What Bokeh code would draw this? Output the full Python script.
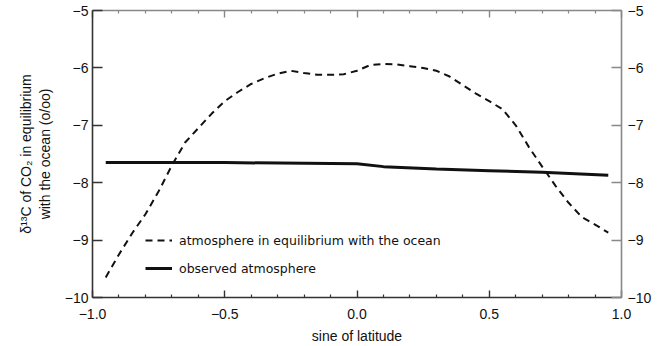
from bokeh.plotting import figure
from bokeh.models import LinearAxis, FixedTicker, Range1d, Legend, LegendItem
from bokeh.embed import file_html
from bokeh.resources import INLINE

# sine of latitude for the ocean-equilibrium curve
sine_lat = [-0.95, -0.90, -0.85, -0.80, -0.75, -0.70, -0.65, -0.60, -0.55, -0.50,
            -0.45, -0.40, -0.35, -0.30, -0.25, -0.20, -0.15, -0.10, -0.05, 0.00,
            0.05, 0.10, 0.15, 0.20, 0.25, 0.30, 0.35, 0.40, 0.45, 0.50,
            0.55, 0.60, 0.65, 0.70, 0.75, 0.80, 0.85, 0.90, 0.95]
# d13C of CO2 for an atmosphere in equilibrium with the ocean (per mil)
ocean_eq = [-9.65, -9.25, -8.88, -8.55, -8.15, -7.70, -7.30, -7.05, -6.80, -6.58,
            -6.42, -6.28, -6.18, -6.10, -6.05, -6.09, -6.12, -6.12, -6.11, -6.05,
            -5.95, -5.93, -5.94, -5.97, -6.00, -6.05, -6.15, -6.30, -6.45, -6.58,
            -6.72, -7.00, -7.38, -7.72, -8.05, -8.35, -8.60, -8.73, -8.87]

# observed atmospheric d13C
obs_sine = [-0.95, -0.50, 0.00, 0.10, 0.30, 0.50, 0.70, 0.95]
obs_atm = [-7.65, -7.65, -7.67, -7.72, -7.76, -7.79, -7.82, -7.87]

x_ticks = [-1.0, -0.5, 0.0, 0.5, 1.0]
x_tick_labels = ["\u22121.0", "\u22120.5", "0.0", "0.5", "1.0"]
x_minor_ticks = [-0.9, -0.8, -0.7, -0.6, -0.4, -0.3, -0.2, -0.1,
                 0.1, 0.2, 0.3, 0.4, 0.6, 0.7, 0.8, 0.9]
y_ticks = [-10, -9, -8, -7, -6, -5]
y_tick_labels = ["\u221210", "\u22129", "\u22128", "\u22127", "\u22126", "\u22125"]

FONT = "Liberation Sans"

p = figure(width=657, height=346, x_range=Range1d(-1, 1), y_range=Range1d(-10, -5),
           output_backend="svg", toolbar_location=None,
           x_axis_location=None, y_axis_location=None,
           min_border_left=92, min_border_right=36,
           min_border_top=10, min_border_bottom=48)
p.xgrid.visible = False
p.ygrid.visible = False
p.outline_line_color = None
p.background_fill_color = "white"
p.border_fill_color = "white"

xt = FixedTicker(ticks=x_ticks, minor_ticks=x_minor_ticks)
yt = FixedTicker(ticks=y_ticks, minor_ticks=[])


def style(ax, color, major_in, minor_in, labels=True):
    ax.axis_line_color = color
    ax.axis_line_width = 1.6
    ax.major_tick_line_color = color
    ax.minor_tick_line_color = color
    ax.major_tick_line_width = 1.4
    ax.minor_tick_line_width = 1.2
    ax.major_tick_in = major_in
    ax.major_tick_out = 0
    ax.minor_tick_in = minor_in
    ax.minor_tick_out = 0
    ax.major_label_text_font = FONT
    ax.major_label_text_font_size = "14px"
    ax.major_label_text_color = "#111111"
    ax.axis_label_text_font = FONT
    ax.axis_label_text_font_size = "14px"
    ax.axis_label_text_font_style = "normal"
    ax.axis_label_text_color = "#111111"
    if not labels:
        ax.major_label_text_alpha = 0


bottom = LinearAxis(ticker=xt, axis_label="sine of latitude",
                    major_label_overrides=dict(zip(x_ticks, x_tick_labels)))
style(bottom, "#333333", 7, 3)
bottom.major_label_standoff = 11
bottom.axis_label_standoff = 6
p.add_layout(bottom, "below")

top = LinearAxis(ticker=xt, major_label_overrides={t: "" for t in x_ticks})
style(top, "#888888", 7, 3, labels=False)
p.add_layout(top, "above")

left = LinearAxis(ticker=yt,
                  axis_label="\u03b4\u00b9\u00b3C of CO\u2082 in equilibrium\nwith the ocean (o/oo)",
                  major_label_overrides=dict(zip(y_ticks, y_tick_labels)))
style(left, "#333333", 10, 0)
left.major_label_standoff = 4
left.axis_label_standoff = 9
p.add_layout(left, "left")

right = LinearAxis(ticker=yt, major_label_overrides=dict(zip(y_ticks, y_tick_labels)))
style(right, "#888888", 10, 0)
right.major_label_standoff = 6
p.add_layout(right, "right")

r_eq = p.line(sine_lat, ocean_eq, line_color="#111111", line_width=2, line_dash="7 5")
r_obs = p.line(obs_sine, obs_atm, line_color="#111111", line_width=3)

legend = Legend(items=[
    LegendItem(label="atmosphere in equilibrium with the ocean", renderers=[r_eq]),
    LegendItem(label="observed atmosphere", renderers=[r_obs]),
], location=(53, 19))
legend.background_fill_alpha = 0
legend.border_line_alpha = 0
legend.padding = 0
legend.margin = 0
legend.glyph_width = 27
legend.glyph_height = 20
legend.label_height = 20
legend.spacing = 8
legend.label_standoff = 7
legend.label_text_font = "DejaVu Sans"
legend.label_text_font_size = "12.5px"
legend.label_text_color = "#111111"
p.add_layout(legend)

open("out.html", "w").write(file_html(p, INLINE))
